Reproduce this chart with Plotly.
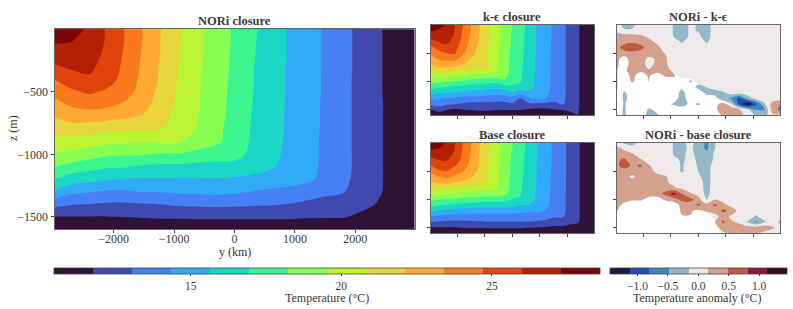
import plotly.graph_objects as go

y_km = [-3000,-2700,-2400,-2100,-1800,-1500,-1200,-900,-600,-300,0,300,600,900,1200,1500,1800,2100,2400,2700,3000]
z_m = [0,-100,-200,-300,-400,-500,-600,-700,-800,-900,-1000,-1100,-1200,-1300,-1400,-1500,-1600]

# Each list below is one column (constant y) from the surface down.
nori_cols = [
 [28.2,27.4,26.64,25.8,24.65,23.82,22.96,22.1,21.2,20.3,19.34,18.3,17.0,15.6,13.5,11.7,10.6],
 [27.9,27.3,26.76,26.2,25.4,24.5,23.6,22.67,21.5,20.3,19.2,17.7,16.3,14.64,13.1,11.7,10.6],
 [27.0,26.9,26.7,26.3,25.8,24.9,23.9,22.76,21.3,20.0,18.8,17.45,16.0,14.4,13.0,11.7,10.6],
 [25.8,25.8,25.6,25.4,25.2,24.5,23.7,22.6,21.06,19.74,18.44,17.05,15.7,14.17,12.87,11.7,10.6],
 [24.6,24.6,24.5,24.4,24.2,23.9,23.2,22.3,21.04,19.68,18.37,17.0,15.5,14.17,12.87,11.76,10.6],
 [23.3,23.3,23.2,23.1,23.0,22.8,22.5,22.0,20.95,19.6,18.3,16.7,15.5,14.38,12.95,11.85,10.6],
 [22.05,22.0,22.0,21.9,21.85,21.7,21.5,21.2,20.8,19.7,18.1,16.6,15.5,14.4,13.05,11.95,10.6],
 [20.9,20.85,20.82,20.75,20.65,20.55,20.45,20.3,20.1,19.55,18.1,16.6,15.5,14.5,13.25,11.95,10.6],
 [19.85,19.8,19.8,19.75,19.7,19.65,19.6,19.53,19.4,18.9,17.8,16.5,15.5,14.6,13.3,12.0,10.6],
 [18.9,18.9,18.85,18.8,18.75,18.7,18.65,18.6,18.5,18.45,17.6,16.4,15.55,14.65,13.35,12.0,10.6],
 [18.05,18.05,18.0,18.0,17.95,17.9,17.9,17.85,17.8,17.7,17.4,16.5,15.45,14.5,13.3,12.0,10.6],
 [17.15,17.1,17.05,17.0,17.0,16.98,16.92,16.85,16.8,16.75,16.6,16.1,15.35,14.3,13.2,12.0,10.6],
 [16.35,16.3,16.3,16.3,16.25,16.25,16.2,16.2,16.15,16.1,16.0,15.8,15.1,14.1,13.15,12.0,10.6],
 [15.55,15.55,15.55,15.5,15.5,15.5,15.5,15.45,15.45,15.4,15.35,15.2,14.85,13.95,13.0,12.0,10.6],
 [14.9,14.9,14.9,14.9,14.85,14.85,14.85,14.85,14.8,14.8,14.8,14.8,14.6,13.7,12.75,11.9,10.6],
 [14.2,14.2,14.2,14.2,14.2,14.2,14.15,14.15,14.15,14.1,14.1,14.05,14.0,13.3,12.6,11.85,10.6],
 [13.45,13.45,13.45,13.45,13.4,13.4,13.4,13.4,13.4,13.4,13.4,13.4,13.3,13.1,12.5,11.85,10.6],
 [12.65,12.65,12.65,12.65,12.65,12.65,12.65,12.65,12.65,12.65,12.65,12.65,12.65,12.6,12.2,11.4,10.6],
 [11.9,11.9,11.9,11.9,11.9,11.9,11.95,11.95,11.95,11.95,11.95,11.95,11.95,11.9,11.6,11.0,10.6],
 [11.0,11.0,11.0,11.0,11.0,11.0,11.0,11.0,11.0,11.0,11.0,11.0,11.0,11.0,10.9,10.8,10.6],
 [10.7,10.7,10.7,10.7,10.7,10.7,10.7,10.7,10.7,10.7,10.7,10.7,10.7,10.7,10.7,10.7,10.6],
]
ke_cols = [
 [28.1,27.5,26.4,25.3,24.35,23.6,22.8,21.9,21.0,20.0,18.8,17.5,16.2,14.7,13.4,11.5,10.6],
 [27.8,27.2,26.6,26.0,25.1,24.3,23.5,22.7,21.5,19.9,18.6,17.2,15.9,14.5,13.6,12.4,10.7],
 [27.25,27.1,26.8,26.3,25.6,24.7,23.7,22.8,21.5,19.7,18.4,16.9,15.7,14.3,13.3,11.8,10.7],
 [26.05,26.0,25.8,25.5,25.2,24.85,23.8,22.6,21.2,19.5,18.2,16.6,15.6,14.1,13.1,11.6,10.7],
 [24.7,24.6,24.5,24.3,24.0,23.6,22.9,22.1,21.0,19.3,18.1,16.5,15.4,13.95,12.9,11.7,10.7],
 [23.4,23.3,23.2,23.0,22.8,22.6,22.05,21.4,20.7,19.1,17.7,16.3,15.1,13.9,12.7,11.8,10.7],
 [22.2,22.15,22.1,22.0,21.8,21.6,21.4,21.1,20.6,19.0,17.6,16.2,15.2,13.9,12.7,12.0,10.7],
 [21.05,21.0,21.0,20.95,20.95,20.9,20.9,20.9,20.85,18.85,17.4,16.1,14.9,13.8,12.7,12.0,10.7],
 [20.05,20.0,20.0,19.95,19.9,19.85,19.8,19.75,19.7,18.77,17.37,15.9,14.9,13.7,12.6,11.8,10.7],
 [19.15,19.1,19.1,19.05,19.0,18.95,18.9,18.85,18.8,18.6,18.0,16.2,15.0,13.7,12.6,11.8,10.7],
 [18.2,18.15,18.1,18.05,18.0,17.95,17.9,17.85,17.8,17.7,17.5,16.7,15.5,13.9,12.9,11.8,10.7],
 [17.4,17.35,17.3,17.3,17.25,17.2,17.2,17.15,17.1,17.05,17.0,16.6,14.9,13.0,12.4,11.8,10.7],
 [16.6,16.55,16.5,16.5,16.45,16.4,16.4,16.35,16.3,16.25,16.2,16.1,15.4,14.2,12.8,11.6,10.7],
 [15.55,15.55,15.55,15.5,15.5,15.5,15.45,15.45,15.45,15.4,15.4,15.4,15.2,14.6,12.8,11.5,10.7],
 [14.85,14.85,14.85,14.8,14.8,14.8,14.75,14.75,14.75,14.7,14.7,14.7,14.6,14.4,12.8,11.5,10.7],
 [14.15,14.15,14.15,14.15,14.1,14.1,14.1,14.1,14.1,14.1,14.1,14.1,14.05,13.8,12.55,11.7,10.7],
 [13.4,13.4,13.4,13.4,13.4,13.4,13.4,13.4,13.4,13.4,13.4,13.4,13.4,13.35,13.2,11.8,10.7],
 [12.65,12.65,12.65,12.65,12.65,12.65,12.65,12.65,12.65,12.65,12.65,12.65,12.65,12.65,12.6,12.2,10.8],
 [11.85,11.85,11.85,11.85,11.85,11.85,11.85,11.85,11.85,11.85,11.85,11.85,11.85,11.85,11.85,11.8,11.76],
 [11.1,11.1,11.1,11.1,11.1,11.1,11.1,11.1,11.1,11.1,11.1,11.1,11.1,11.1,11.1,11.1,11.0],
 [10.8,10.8,10.8,10.8,10.8,10.8,10.8,10.8,10.8,10.8,10.8,10.8,10.8,10.8,10.8,10.8,10.8],
]
base_cols = [
 [28.2,27.5,26.6,25.5,24.6,23.7,22.9,21.95,21.0,20.0,18.7,17.4,16.0,14.35,13.1,11.6,10.6],
 [27.8,27.3,26.65,26.0,25.3,24.5,23.35,22.25,21.05,19.75,18.3,17.1,15.55,14.2,12.95,11.65,10.6],
 [27.2,27.0,26.6,26.15,25.3,24.75,23.7,22.5,20.9,19.53,18.1,16.85,15.4,13.95,12.8,11.65,10.6],
 [26.1,26.0,25.8,25.4,24.8,24.1,23.2,22.1,20.7,19.4,18.0,16.7,15.2,13.8,12.8,11.65,10.6],
 [24.7,24.6,24.5,24.35,24.0,23.5,22.8,21.85,20.6,19.2,17.8,16.5,15.0,13.8,12.8,11.76,10.6],
 [23.4,23.35,23.3,23.2,23.0,22.7,22.2,21.5,20.4,19.1,17.8,16.4,15.0,13.8,12.9,11.85,10.6],
 [22.2,22.15,22.1,22.05,22.0,21.85,21.6,21.2,20.3,19.0,17.7,16.2,14.9,13.8,12.9,11.85,10.6],
 [21.05,21.0,21.0,20.95,20.95,20.9,20.9,20.85,20.06,18.8,17.5,16.2,14.9,13.8,13.0,11.9,10.6],
 [20.05,20.0,20.0,19.95,19.9,19.85,19.85,19.8,19.75,18.9,17.5,16.2,14.9,13.8,13.0,11.9,10.6],
 [19.15,19.1,19.1,19.05,19.05,19.0,19.0,18.95,18.9,18.6,17.3,16.3,14.9,13.8,13.0,11.9,10.6],
 [18.3,18.2,18.1,18.05,18.0,17.95,17.9,17.85,17.8,17.6,16.9,16.1,14.9,13.8,13.0,11.9,10.6],
 [17.4,17.35,17.3,17.25,17.2,17.2,17.15,17.1,17.05,17.0,16.8,15.7,14.7,13.8,13.0,11.9,10.6],
 [16.65,16.6,16.55,16.5,16.5,16.45,16.4,16.4,16.35,16.3,16.1,15.6,14.6,13.7,13.0,11.8,10.6],
 [15.7,15.65,15.65,15.65,15.6,15.6,15.6,15.55,15.5,15.5,15.45,15.3,14.6,13.6,12.9,11.7,10.6],
 [14.85,14.85,14.8,14.8,14.8,14.75,14.75,14.7,14.7,14.65,14.6,14.6,14.3,13.5,12.8,11.6,10.6],
 [14.2,14.2,14.2,14.2,14.2,14.15,14.15,14.1,14.1,14.1,14.1,14.05,13.9,13.2,12.4,11.5,10.6],
 [13.5,13.5,13.5,13.5,13.5,13.5,13.45,13.45,13.45,13.45,13.4,13.4,13.4,13.2,12.45,11.5,10.6],
 [12.65,12.65,12.65,12.65,12.65,12.65,12.65,12.65,12.65,12.65,12.65,12.65,12.65,12.6,12.1,11.3,10.6],
 [11.9,11.9,11.9,11.9,11.9,11.9,11.9,11.9,11.9,11.9,11.9,11.9,11.9,11.9,11.85,11.2,10.6],
 [11.0,11.0,11.0,11.0,11.0,11.0,11.0,11.0,11.0,11.0,11.0,11.0,11.0,11.0,11.0,10.9,10.6],
 [10.7,10.7,10.7,10.7,10.7,10.7,10.7,10.7,10.7,10.7,10.7,10.7,10.7,10.7,10.7,10.7,10.6],
]
# Anomalies: each list is one row (constant z) from left to right.
diff_ke_rows = [
 [0,-.25,-.25,0,0,0,0,-.18,-.3,-.12,-.18,-.3,0,0,0,0,0,0,0,0,0],
 [.1,-.12,-.1,0,0,0,0,-.18,-.3,-.12,-.18,-.3,0,0,0,0,0,0,0,0,0],
 [.3,.3,.3,.2,.1,0,0,-.17,-.3,-.12,-.1,-.3,0,0,0,0,0,0,0,0,0],
 [.3,.35,.4,.35,.25,.1,0,0,-.2,0,0,-.2,0,0,0,0,0,0,0,0,0],
 [.3,.65,.8,.6,.3,.25,0,0,0,0,0,0,0,0,0,0,0,0,0,0,0],
 [.3,.3,.35,.3,.3,.25,.15,0,0,0,0,0,0,0,0,0,0,0,0,0,0],
 [.25,.05,.3,.3,.1,.2,.2,0,0,0,0,0,0,0,0,0,0,0,0,0,0],
 [.25,0,.3,.3,.05,.25,.2,.05,0,0,0,0,0,0,0,0,0,0,0,0,0],
 [.2,0,.5,.25,.2,.3,.25,.1,0,0,0,0,0,0,0,0,0,0,0,0,0],
 [.2,0,.25,0,.2,0,.2,.2,0,0,0,0,0,0,0,0,0,0,0,0,0],
 [.2,0,.2,0,.18,0,0,0,.17,-.2,-.05,0,0,0,0,0,0,0,0,0,0],
 [.2,0,0,0,0,0,0,0,-.1,0,-.25,-.15,0,0,0,0,0,0,0,0,0],
 [.2,-.2,0,0,0,0,0,0,-.25,0,0,-.25,-.35,-.2,0,0,0,0,0,0,0],
 [.2,-.25,0,0,0,0,0,0,-.3,0,0,0,0,-.45,-.55,-.9,-.3,-.05,0,0,0],
 [.2,-.2,0,0,0,0,-.1,-.2,-.3,-.1,-.2,0,.05,.3,-.1,-.95,-1.45,-.85,-.2,.3,.5],
 [0,-.2,0,0,-.2,-.1,0,0,0,0,0,0,.05,.45,.45,.2,-.1,-.5,-.5,.3,.6],
 [0,-.2,0,0,-.25,-.2,0,0,0,0,0,0,0,.2,.3,.3,0,-.2,-.3,.1,.1],
]
diff_base_rows = [
 [0,-.2,-.3,0,0,0,0,-.18,-.25,-.05,-.3,-.55,-.17,0,0,0,0,0,0,0,0],
 [.3,.1,0,0,0,0,0,-.18,-.25,-.1,-.3,-.55,-.17,0,0,0,0,0,0,0,0],
 [.35,.3,.2,0,0,0,0,-.18,-.25,-.05,-.28,-.35,-.12,0,0,0,0,0,0,0,0],
 [.4,.55,.3,.2,0,0,0,0,-.25,0,-.25,-.35,-.1,0,0,0,0,0,0,0,0],
 [.35,.7,.4,.55,.2,0,0,0,-.2,0,-.2,-.35,0,0,0,0,0,0,0,0,0],
 [.35,.3,.3,.35,.25,.1,0,0,-.2,0,-.17,-.3,0,0,0,0,0,0,0,0,0],
 [.3,.3,.1,.3,.25,.25,.2,0,0,0,-.1,-.3,0,0,0,0,0,0,0,0,0],
 [.3,.3,.3,.3,.3,.25,.2,.1,0,0,0,-.3,0,0,0,0,0,0,0,0,0],
 [.3,.3,.3,.3,.3,.5,.3,.2,.1,0,0,-.27,0,0,0,0,0,0,0,0,0],
 [.25,.3,.3,.25,.25,.3,.6,.95,.5,.2,.05,-.25,0,0,0,0,0,0,0,0,0],
 [.25,.25,.2,.2,.1,.05,.2,.3,.6,.6,.3,-.17,.15,0,0,0,0,0,0,0,0],
 [.25,.1,0,0,0,0,0,0,.25,.3,.55,.3,.55,.3,0,0,0,0,0,0,0],
 [.2,0,0,0,0,0,0,0,.2,.2,.1,.2,.3,.55,.4,0,0,0,0,0,0],
 [0,0,0,0,0,0,0,0,.15,.15,0,0,.05,.3,.1,0,0,-.2,0,0,0],
 [0,0,0,0,0,0,0,0,.15,.1,0,0,.15,.55,.2,.1,-.2,-.55,-.2,0,.25],
 [0,0,0,0,0,0,0,0,0,0,-.1,0,.05,.3,.35,.3,.3,.35,.4,.2,.05],
 [0,0,0,0,0,0,0,0,0,0,0,0,0,.1,.25,.25,.2,.2,.05,0,0],
]
# First row index of each column at which the anomaly background turns pure white.
ke_white_from = [6,6,9,8,8,9,9,9,10,10,11,12,13,14,17,17,17,17,17,17,17]
base_white_from = [12,11,10,10,10,10,10,10,11,11,12,13,14,17,17,17,17,17,17,17,17]

temp_colors = ["#2e1238","#4049b0","#4680f5","#30aaf6","#1ad8c5","#3cf58f","#88ff50","#bdf535","#e8d53c","#ffa932","#fb7a1e","#e0440c","#b42003","#7a0403"]
anom_colors = ["#141b47","#2649b3","#3b87be","#94b8c5","#efeaea","#d5a18f","#c05a3c","#8e1537","#3c0912"]
temp_min, temp_max = 10.46, 28.59
temp_first, temp_last, temp_step = 11.755, 27.295, 1.295
anom_min, anom_max = -1.455, 1.455
anom_first, anom_last, anom_step = 0.1617, 1.1316, 0.3233

W, H = 793, 309
FONT = "Liberation Serif"
TXT = "#3a3a3a"
CLEAR = "rgba(239,234,234,0)"

def steps(colors):
    out = []
    n = len(colors)
    for i, c in enumerate(colors):
        out += [[i / n, c], [(i + 1) / n, c]]
    return out

def transpose(cols):
    return [list(r) for r in zip(*cols)]

def background(white_from):
    return [[0 if r >= white_from[c] else 1 for c in range(len(y_km))] for r in range(len(z_m))]

def negate(rows):
    return [[-v for v in r] for r in rows]

panels = [
    ("NORi closure", transpose(nori_cols), None, (54.5, 414.5, 29.3, 229), 2980, 1596),
    ("k-ϵ closure", transpose(ke_cols), None, (430.7, 594, 25, 115.3), 2970, 1600),
    ("Base closure", transpose(base_cols), None, (430.7, 594, 143, 233.3), 2970, 1600),
    ("NORi - k-ϵ", diff_ke_rows, ke_white_from, (616.7, 780, 25, 115.3), 2970, 1600),
    ("NORi - base closure", diff_base_rows, base_white_from, (616.7, 780, 143, 233.3), 2970, 1600),
]

fig = go.Figure()
annotations = []
axis_common = dict(showgrid=False, zeroline=False, showline=True, mirror=True, linecolor="#666666",
                   linewidth=1, ticks="outside", ticklen=3, tickwidth=0.8, tickcolor="#444444",
                   tickfont=dict(family=FONT, size=12, color=TXT))

def colorbar(x0, x1, tickvals, ticktext):
    return dict(orientation="h", len=x1 - x0, lenmode="pixels", thickness=5.7, thicknessmode="pixels",
                x=(x0 + x1) / 2 / W, xanchor="center", xref="paper", y=1 - 268.3 / H, yanchor="top", yref="paper",
                xpad=0, ypad=0, outlinewidth=0.8, outlinecolor="#444444",
                tickmode="array", tickvals=tickvals, ticktext=ticktext, ticks="outside", ticklen=2, tickwidth=0.8,
                tickcolor="#444444", tickfont=dict(family=FONT, size=11.5, color=TXT))

def label(text, px, py, **kw):
    annotations.append(dict(text=text, x=px / W, y=1 - py / H, xref="paper", yref="paper", showarrow=False,
                            xanchor="center", yanchor="middle",
                            font=dict(family=FONT, size=kw.pop("size", 12), color=TXT), **kw))

def contour(z, start, end, step, zmin, zmax, scale, n, **kw):
    return go.Contour(x=y_km, y=z_m, z=z, zmin=zmin, zmax=zmax, colorscale=scale, autocontour=False,
                      contours=dict(start=start, end=end, size=step, coloring="fill", showlines=False),
                      line=dict(width=0, smoothing=1), xaxis="x" + n, yaxis="y" + n, hoverinfo="skip", **kw)

for i, (title, z, white, (x0, x1, y0, y1), xr, zr) in enumerate(panels):
    n = "" if i == 0 else str(i + 1)
    if white is None:
        kw = {"colorbar": colorbar(54, 600, [15, 20, 25], ["15", "20", "25"])} if i == 0 else {"showscale": False}
        fig.add_trace(contour(z, temp_first, temp_last, temp_step, temp_min, temp_max, steps(temp_colors), n, **kw))
    else:
        kw = ({"colorbar": colorbar(610, 786.7, [-1, -0.5, 0, 0.5, 1], ["−1.0", "−0.5", "0.0", "0.5", "1.0"])}
              if i == 3 else {"showscale": False})
        # full anomaly field (carries the colour bar), then the background, then each sign on top
        fig.add_trace(contour(z, -anom_last, anom_last, anom_step, anom_min, anom_max, steps(anom_colors), n, **kw))
        fig.add_trace(contour(background(white), 0.5, 0.5, 1, 0, 1,
                              [[0, "#ffffff"], [0.5, "#ffffff"], [0.5, "#efeaea"], [1, "#efeaea"]], n, showscale=False))
        pos = [CLEAR] + anom_colors[5:]
        neg = [CLEAR] + anom_colors[3::-1]
        fig.add_trace(contour(z, anom_first, anom_last, anom_step, anom_min, anom_max, steps(pos), n, showscale=False))
        fig.add_trace(contour(negate(z), anom_first, anom_last, anom_step, anom_min, anom_max, steps(neg), n, showscale=False))
    labels = i == 0
    fig.layout["xaxis" + n] = dict(axis_common, domain=[x0 / W, x1 / W], range=[-xr, xr],
                                   tickvals=[-2000, -1000, 0, 1000, 2000], showticklabels=labels,
                                   anchor="y" + n, ticklabelstandoff=-4)
    fig.layout["yaxis" + n] = dict(axis_common, domain=[1 - y1 / H, 1 - y0 / H], range=[-zr, -2],
                                   tickvals=[-1500, -1000, -500], showticklabels=labels,
                                   anchor="x" + n)
    label("<b>%s</b>" % title, (x0 + x1) / 2, y0 - 8, size=12.5)

label("y (km)", 234.5, 252)
label("z (m)", 13, 128, textangle=-90)
label("Temperature (°C)", 327, 297.5)
label("Temperature anomaly (°C)", 697.5, 297.5)

fig.update_layout(width=W, height=H, margin=dict(l=0, r=0, t=0, b=0), paper_bgcolor="white", plot_bgcolor="white",
                  showlegend=False, annotations=annotations)
fig.write_html("out.html", config={"displayModeBar": False},
               post_script="document.body.style.margin='0';document.documentElement.style.overflow='hidden';")
